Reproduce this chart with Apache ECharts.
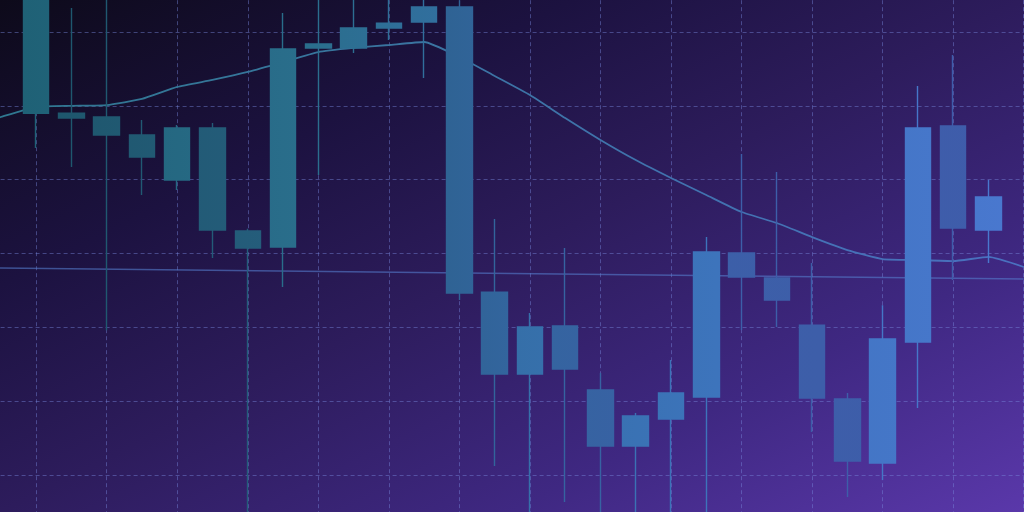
<!DOCTYPE html>
<html><head><meta charset="utf-8">
<script src="https://cdn.jsdelivr.net/npm/echarts@6/dist/echarts.min.js"></script>
<style>
html,body{margin:0;padding:0;width:1024px;height:512px;overflow:hidden;background:#000;}
#c{width:1024px;height:512px;background:linear-gradient(to bottom right,#0d0a1a 0%,#1c1240 28%,#2d1c5c 50%,#3f2882 75%,#5a38aa 100%);}
</style></head><body><div id="c"></div>
<script>
// category slots (0,1 and 30 are empty edge slots)
const categories = ['s0','s1','c1','c2','c3','c4','c5','c6','c7','c8','c9','c10','c11','c12','c13','c14','c15','c16','c17','c18','c19','c20','c21','c22','c23','c24','c25','c26','c27','c28','s30'];
const opens  = ['-','-',59.0,59.0,58.5,56.05,49.95,57.0,43.05,40.88,67.84,67.84,70.54,71.35,73.39,34.77,23.67,30.17,21.51,13.92,17.58,20.56,40.07,36.68,30.3,20.29,11.62,28.01,57.27,43.18,'-'];
const closes = ['-','-',78.4,58.35,56.05,53.07,57.0,43.18,40.74,67.70,68.38,70.54,71.21,73.39,34.64,23.67,30.04,24.35,13.92,17.99,21.1,40.2,36.82,33.7,20.43,11.89,28.41,57.0,43.45,47.65,'-'];
const lows   = ['-','-',54.3,51.7,29.6,47.92,48.6,39.39,2.5,35.45,50.63,67.16,68.92,63.78,33.7,11.22,2.5,6.34,2.5,2.5,2.5,2.5,29.63,30.04,15.82,7.02,9.32,19.07,36.4,38.71,'-'];
const highs  = ['-','-',79.0,73.25,75.7,58.08,57.4,57.67,43.35,72.57,75.7,75.7,75.7,75.7,74.3,44.67,31.93,40.74,23.81,18.4,25.57,42.23,53.48,51.04,38.71,21.1,32.99,62.7,66.89,49.95,'-'];
const maValues = [57.0,58.49,59.84,60.0,60.11,60.93,62.56,63.51,64.59,65.94,67.29,67.84,68.24,68.65,66.62,64.05,61.47,58.35,55.38,52.66,50.23,47.92,45.62,44.13,42.23,40.47,39.25,39.12,38.98,39.53,38.17];
const refLevel = [38.08,'-','-','-','-','-','-','-','-','-','-','-','-','-','-','-','-','-','-','-','-','-','-','-','-','-','-','-','-','-',36.55];
const yMin = 0, yMax = 80, yStep = 10;

const candleData = opens.map((o, i) => o === '-' ? '-' : [o, closes[i], lows[i], highs[i]]);

const G = (stops) => new echarts.graphic.LinearGradient(0, 0, 1024, 0,
  stops.map(s => ({offset: s[0], color: s[1]})), true);
const upGrad = () => G([[0,'#1e6074'],[0.3,'#2a6e8c'],[0.5,'#356fa8'],[0.7,'#3d74bc'],[1,'#4a78d0']]);
const downGrad = () => G([[0,'#1c5569'],[0.3,'#265e7e'],[0.5,'#33659e'],[0.7,'#3c5fa8'],[1,'#3f5cab']]);
const maGrad = G([[0,'#2f7890'],[0.4,'#3a74a0'],[1,'#4a70c0']]);
const gridColor = 'rgba(120,135,220,0.45)';

const chart = echarts.init(document.getElementById('c'), null, {renderer: 'canvas'});
chart.setOption({
  animation: false,
  backgroundColor: 'transparent',
  grid: {left: -34.4, width: 1058.1, top: -41.8, height: 590.6, containLabel: false, outerBoundsMode: 'none'},
  xAxis: {
    type: 'category', data: categories, boundaryGap: false,
    axisLine: {show: false}, axisTick: {show: false}, axisLabel: {show: false},
    splitLine: {show: true, interval: (idx) => idx % 2 === 0,
      lineStyle: {color: gridColor, width: 1, type: [4, 3]}}
  },
  yAxis: {
    type: 'value', min: yMin, max: yMax, interval: yStep,
    axisLine: {show: false}, axisTick: {show: false}, axisLabel: {show: false},
    splitLine: {show: true, lineStyle: {color: gridColor, width: 1, type: [4, 3]}}
  },
  series: [
    {type: 'line', data: refLevel, connectNulls: true, symbol: 'none', silent: true, z: 1,
      lineStyle: {color: 'rgba(85,125,205,0.6)', width: 1.5}},
    {type: 'line', data: maValues, symbol: 'none', silent: true, z: 2, smooth: 0.15,
      lineStyle: {color: maGrad, width: 1.8}},
    {type: 'candlestick', data: candleData, barWidth: 26, z: 3, silent: true,
      itemStyle: {color: upGrad(), color0: downGrad(), borderColor: upGrad(), borderColor0: downGrad(), borderWidth: 1.4}}
  ]
});
</script></body></html>
